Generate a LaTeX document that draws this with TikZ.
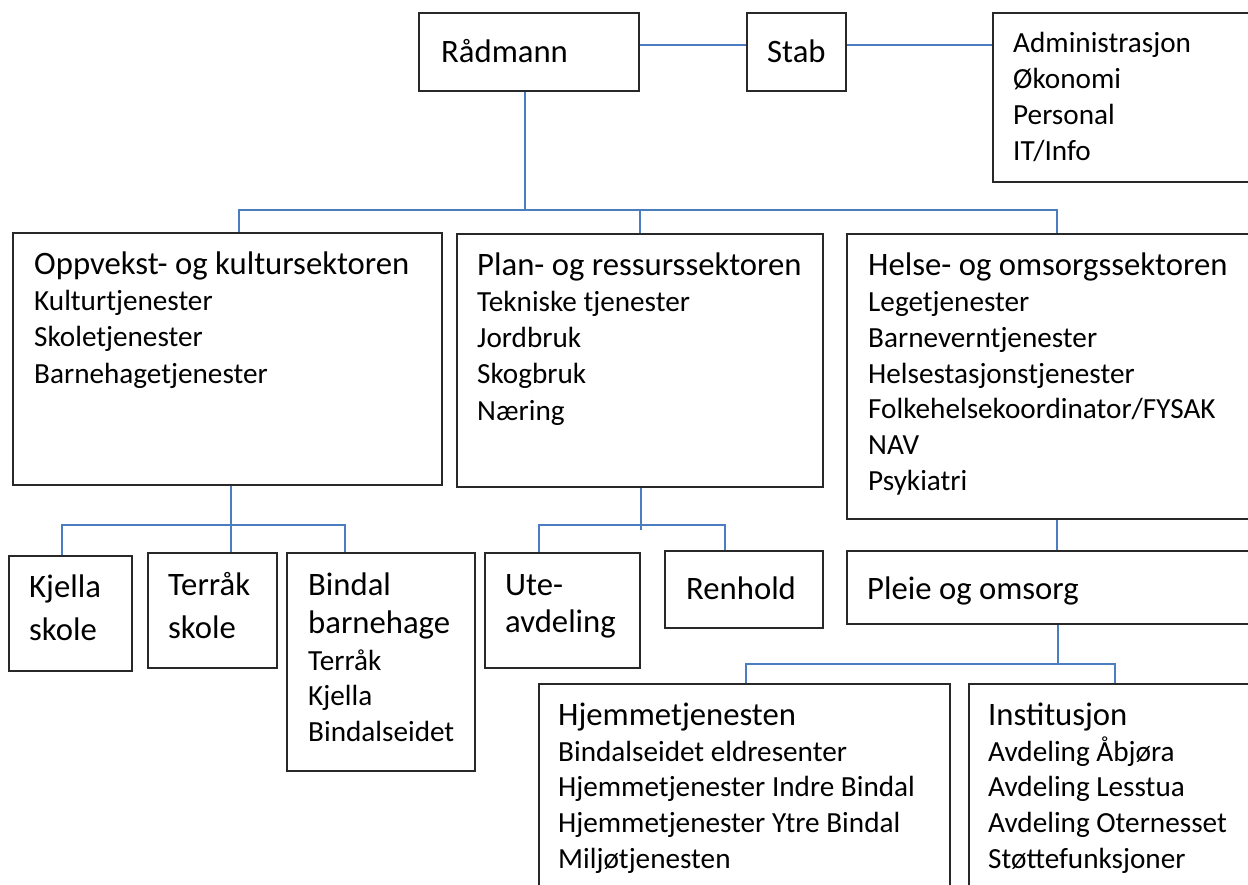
\documentclass[tikz,border=0pt]{standalone}
\usepackage{fontspec}
\setmainfont{Carlito}
\usetikzlibrary{fit}
\definecolor{connblue}{RGB}{74,126,192}
\definecolor{boxline}{RGB}{40,40,40}
\tikzset{
  orgbox/.style={draw=boxline, line width=1.5pt, inner sep=0pt},
  conn/.style={draw=connblue, line width=2pt},
  bigtxt/.style={inner sep=0pt, anchor=base west, font=\fontsize{32.7}{38}\selectfont},
  smalltxt/.style={inner sep=0pt, anchor=base west, font=\fontsize{29.2}{36}\selectfont},
}
\begin{document}
\begin{tikzpicture}[x=1pt,y=-1pt]
\useasboundingbox (0,0) rectangle (1248,885);
\fill[white] (0,0) rectangle (1248,885);
\clip (0,0) rectangle (1248,885);

% ---------- boxes ----------
\node[orgbox, fit={(419,13) (639,91)}] (radm) {};
\node[orgbox, fit={(747,13) (846,91)}] (stab) {};
\node[orgbox, fit={(993,13) (1262,182)}] (admin) {};
\node[orgbox, fit={(13,233) (442,485)}] (opp) {};
\node[orgbox, fit={(457,234) (823,487)}] (plan) {};
\node[orgbox, fit={(847,234) (1267,519)}] (helse) {};
\node[orgbox, fit={(9,556) (132,671)}] (kje) {};
\node[orgbox, fit={(148,553) (277,668)}] (terr) {};
\node[orgbox, fit={(287,553) (475,771)}] (bin) {};
\node[orgbox, fit={(485,553) (640,668)}] (ute) {};
\node[orgbox, fit={(665,551) (823,628)}] (ren) {};
\node[orgbox, fit={(847,551) (1267,624)}] (pleie) {};
\node[orgbox, fit={(539,684) (950,905)}] (hjem) {};
\node[orgbox, fit={(969,684) (1261,905)}] (inst) {};

% ---------- texts ----------
\node[bigtxt] (t-radm) at (441,63) {Rådmann};
\node[bigtxt] (t-stab) at (767,63) {Stab};
\foreach \t [count=\i from 0] in {Administrasjon,Økonomi,Personal,IT/Info}
  \node[smalltxt] (t-adm\i) at (1013,{53+35.7*\i}) {\t};

\node[bigtxt] (t-opp) at (34,275) {Oppvekst- og kultursektoren};
\foreach \t [count=\i from 0] in {Kulturtjenester,Skoletjenester,Barnehagetjenester}
  \node[smalltxt] (t-opp\i) at (34,{311+36*\i}) {\t};

\node[bigtxt] (t-plan) at (477,276) {Plan- og ressurssektoren};
\foreach \t [count=\i from 0] in {Tekniske tjenester,Jordbruk,Skogbruk,Næring}
  \node[smalltxt] (t-plan\i) at (477,{312+36*\i}) {\t};

\node[bigtxt] (t-helse) at (868,276) {Helse- og omsorgssektoren};
\foreach \t [count=\i from 0] in {Legetjenester,Barneverntjenester,Helsestasjonstjenester,Folkehelsekoordinator/FYSAK,NAV,Psykiatri}
  \node[smalltxt] (t-helse\i) at (868,{312+35.6*\i}) {\t};

\node[bigtxt] (t-kje1) at (29,597) {Kjella};
\node[bigtxt] (t-kje2) at (29,640) {skole};
\node[bigtxt] (t-terr1) at (168,595) {Terråk};
\node[bigtxt] (t-terr2) at (168,638) {skole};
\node[bigtxt] (t-bin1) at (308,595) {Bindal};
\node[bigtxt] (t-bin2) at (308,633) {barnehage};
\foreach \t [count=\i from 0] in {Terråk,Kjella,Bindalseidet}
  \node[smalltxt] (t-bin\i) at (308,{670+35.5*\i}) {\t};

\node[bigtxt] (t-ute1) at (505,595) {Ute-};
\node[bigtxt] (t-ute2) at (505,632) {avdeling};
\node[bigtxt] (t-ren) at (686,599) {Renhold};
\node[bigtxt] (t-pleie) at (867,599) {Pleie og omsorg};

\node[bigtxt] (t-hjem) at (558,725) {Hjemmetjenesten};
\foreach \t [count=\i from 0] in {Bindalseidet eldresenter,Hjemmetjenester Indre Bindal,Hjemmetjenester Ytre Bindal,Miljøtjenesten}
  \node[smalltxt] (t-hjem\i) at (558,{761+35.7*\i}) {\t};

\node[bigtxt] (t-inst) at (988,725) {Institusjon};
\foreach \t [count=\i from 0] in {Avdeling Åbjøra,Avdeling Lesstua,Avdeling Oternesset,Støttefunksjoner}
  \node[smalltxt] (t-inst\i) at (988,{761+35.7*\i}) {\t};

% ---------- helper coordinates ----------
\coordinate (ytop) at (0,45);
\coordinate (rx) at (525,0);
\coordinate (b1L) at (239,210);
\coordinate (b1R) at (1057,210);
\coordinate (ox) at (231,0);
\coordinate (b2L) at (62,525);
\coordinate (b2R) at (345,525);
\coordinate (px) at (641,0);
\coordinate (pend) at (641,530);
\coordinate (b3L) at (539,525);
\coordinate (b3R) at (725,525);
\coordinate (hx) at (1057,0);
\coordinate (qx) at (1058,664);
\coordinate (b4L) at (746,664);
\coordinate (b4R) at (1115,664);

% ---------- connectors ----------
\draw[conn] (radm.east |- ytop) -- (stab.west |- ytop);
\draw[conn] (stab.east |- ytop) -- (admin.west |- ytop);
\draw[conn] (rx |- radm.south) -- (rx |- b1L);
\draw[conn] (b1L |- opp.north) -- (b1L) -- (b1R) -- (b1R |- helse.north);
\draw[conn] (plan.north |- b1L) -- (plan.north);

\draw[conn] (ox |- opp.south) -- (ox |- terr.north);
\draw[conn] (b2L |- kje.north) -- (b2L) -- (b2R) -- (b2R |- bin.north);

\draw[conn] (px |- plan.south) -- (pend);
\draw[conn] (b3L |- ute.north) -- (b3L) -- (b3R) -- (b3R |- ren.north);

\draw[conn] (hx |- helse.south) -- (hx |- pleie.north);
\draw[conn] (qx |- pleie.south) -- (qx);
\draw[conn] (b4L |- hjem.north) -- (b4L) -- (b4R) -- (b4R |- inst.north);
\end{tikzpicture}
\end{document}
